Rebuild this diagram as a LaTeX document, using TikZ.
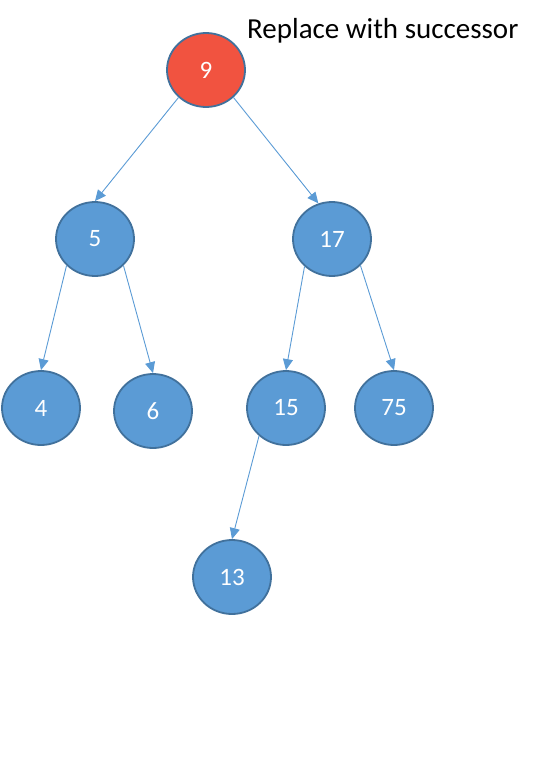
\documentclass[tikz,border=0pt]{standalone}
\usepackage{fontspec}
\setmainfont{Carlito}
\usetikzlibrary{shapes.geometric,arrows.meta}
\definecolor{nodeblue}{HTML}{5B9BD5}
\definecolor{nodeborder}{HTML}{41719C}
\definecolor{nodered}{HTML}{F15340}
\tikzset{
  treenode/.style={ellipse, draw=nodeborder, line width=1.8pt, fill=nodeblue,
    minimum width=78pt, minimum height=74pt, inner sep=0pt, text=white,
    font=\fontsize{25}{30}\selectfont},
  rednode/.style={treenode, fill=nodered},
  edge/.style={draw=nodeblue, line width=0.9pt, -{Triangle[length=11pt,width=10pt]}}
}
\begin{document}
\begin{tikzpicture}[x=1pt,y=-1pt]
\path[use as bounding box] (0,0) rectangle (558,784);
\node[rednode] (n9) at (206,70) {9};
\node[treenode] (n5) at (95,239) {5};
\node[treenode] (n17) at (332,239) {17};
\node[treenode] (n4) at (41,408) {4};
\node[treenode] (n6) at (153,411) {6};
\node[treenode] (n15) at (286,408) {15};
\node[treenode] (n75) at (394,408) {75};
\node[treenode] (n13) at (232,577) {13};
\node[anchor=base west, inner sep=0pt, font=\fontsize{29}{35}\selectfont] (title) at (247,38) {Replace with successor};
\draw[edge] (n9.225) -- (n5.north);
\draw[edge] (n9.315) -- (n17.111);
\draw[edge] (n5.223) -- (n4.north);
\draw[edge] (n5.317) -- (n6.north);
\draw[edge] (n17.225) -- (n15.north);
\draw[edge] (n17.317) -- (n75.north);
\draw[edge] (n15.226) -- (n13.north);
\end{tikzpicture}
\end{document}
